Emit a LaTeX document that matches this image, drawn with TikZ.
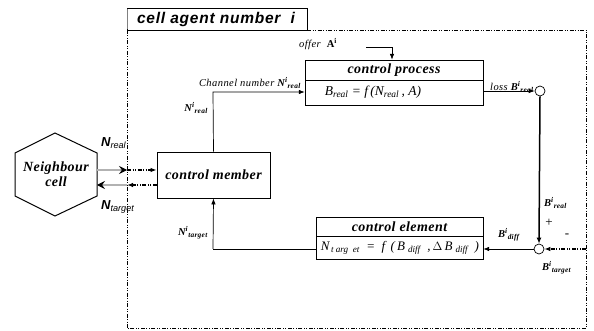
\documentclass[tikz,border=0pt]{standalone}
\usepackage{fontspec}
\setmainfont{Liberation Serif}
\setsansfont{Liberation Sans}
\usetikzlibrary{arrows.meta}
\newcommand{\Sp}[1]{\textsuperscript{#1}}
\newcommand{\Sb}[1]{\textsubscript{#1}}
\tikzset{
  blk/.style={draw, line width=0.8pt, inner sep=0pt},
  lbl/.style={font=\fontsize{10.5}{11}\selectfont\itshape\addfontfeatures{LetterSpace=4}, inner sep=1pt},
  conn/.style={line width=0.7pt, -{Latex[length=6pt,width=4.5pt]}},
  thickconn/.style={line width=1.5pt, -{Latex[length=6pt,width=5pt]}},
  dblconn/.style={draw=black, line width=0.6pt, double=gray!60, double distance=1.4pt, -{Stealth[length=8pt,width=8pt,inset=3pt]}},
  dd/.style={dash pattern=on 4pt off 1.5pt on 1pt off 1.5pt on 1pt off 1.5pt},
  frame/.style={dd, line width=0.9pt},
  sumc/.style={draw, circle, minimum size=10pt, inner sep=0pt, line width=0.7pt, fill=white},
  boxtitle/.style={font=\fontsize{14}{15}\selectfont\bfseries\itshape\addfontfeatures{LetterSpace=3}},
}
\begin{document}
\begin{tikzpicture}[x=1pt,y=-1pt]
\useasboundingbox (0,0) rectangle (594,331);
% title box and frame
\draw[line width=0.8pt] (127,8) rectangle (307,30);
\draw[gray, line width=1.2pt] (127.6,8.6) -- (127.6,29.4);
\node[font=\fontsize{15.5}{17}\selectfont\sffamily\bfseries\itshape\addfontfeatures{LetterSpace=5}] (title) at (216,19) {cell agent number\ \ i};
\draw[frame] (307,30) -- (586,30) -- (586,328) -- (127,328);
\draw[dd, line width=0.6pt] (127,30) -- (127,328);
% control process
\draw[blk] (305,60) rectangle (483,105);
\draw[line width=0.8pt] (305,80) -- (483,80);
\node (cp) at (394,82.5) [minimum width=178pt, minimum height=45pt] {};
\node[boxtitle] (cpt) at (394,70) {control process};
\node[font=\fontsize{13.5}{14}\selectfont\itshape] (cpf) at (373,92.5) {B\Sb{real} = f\,(N\Sb{real}\,, A)};
% control element
\draw[blk] (316,217) rectangle (483,259);
\draw[line width=0.8pt] (316,236) -- (483,236);
\node (ce) at (399.5,238) [minimum width=167pt, minimum height=42pt] {};
\node[boxtitle] (cet) at (399.5,226.5) {control element};
\node[font=\fontsize{13}{14}\selectfont\itshape] (cef) at (400,248) {N\Sb{\,t arg\ \ et}\ \ =\ \ f\, (\,B\Sb{\,\,diff}\ \ ,\,$\Delta$\,B\Sb{\,\,diff}\ \ )};
% control member
\node[blk, minimum width=113pt, minimum height=46pt, boxtitle] (cm) at (213.5,175) {control member};
% neighbour cell
\draw[line width=1pt] (55,133) -- (97,153) -- (97,196) -- (55,216) -- (15,196) -- (15,153) -- cycle;
\node[boxtitle, align=center] (nc) at (56,174.5) {Neighbour\\cell};
% circles
\node[sumc] (c1) at (540,91) {};
\node[sumc] (c2) at (539,249) {};
% coordinates
\coordinate (o1) at (366,47);
\coordinate (o2) at (392,47);
\coordinate (cmtop) at (213,92);
\coordinate (cmbot) at (213,249);
\coordinate (tgt) at (586,249);
\coordinate (b1) at (127,170);
\coordinate (b2) at (127,185);
\coordinate (h1) at (97,170);
\coordinate (h2) at (97,185);
% connectors
\draw[conn] (o1) -- (o2) -- (o2 |- cp.north);
\draw[conn] (cm.north) -- (cmtop) -- (cp.west |- cmtop);
\draw[conn] (cp.east |- c1) -- (c1.west);
\draw[thickconn] (c1.south) -- (c2.north);
\draw[conn, dd, line width=1.1pt] (tgt) -- (c2.east);
\draw[conn] (c2.west) -- (ce.east |- c2);
\draw[line width=0.7pt] (ce.west |- cmbot) -- (cmbot);
\draw[conn] (cmbot) -- (cm.south);
\draw[dblconn] (h1) -- (b1);
\draw[conn, dd, line width=1.2pt] (b1) -- (cm.west |- b1);
\draw[conn, dd, line width=1.2pt] (cm.west |- b2) -- (b2);
\draw[dblconn] (b2) -- (h2);
% labels
\node[lbl, anchor=west] (offer) at (298,44) {offer\ \ \textbf{\upshape A}\Sp{\textbf{\upshape i}}};
\node[lbl, anchor=east] (chn) at (302,83) {Channel number \textbf{N\Sp{i}\Sb{real}}};
\node[lbl, anchor=east] (nreal) at (209,108) {\textbf{N\Sp{i}\Sb{real}}};
\node[lbl, anchor=west] (loss) at (489,87) {loss \textbf{B\Sp{i}\Sb{real}}};
\node[lbl, anchor=west] (breal) at (543,203) {\textbf{B\Sp{i}\Sb{real}}};
\node[font=\fontsize{13}{14}\selectfont, inner sep=0pt] (plus) at (549,223) {+};
\node[font=\fontsize{13}{14}\selectfont, inner sep=0pt] (minus) at (567,236) {-};
\node[lbl, anchor=west] (bdiff) at (497,235) {\textbf{B\Sp{i}\Sb{diff}}};
\node[lbl, anchor=west] (btgt) at (541,268) {\textbf{B\Sp{i}\Sb{target}}};
\node[lbl, anchor=east] (ntgt) at (209,233) {\textbf{N\Sp{i}\Sb{target}}};
\node[font=\fontsize{13}{14}\selectfont\sffamily\bfseries\itshape, anchor=west, inner sep=0pt] (nr) at (101,143) {N\Sb{\normalfont\sffamily\itshape real}};
\node[font=\fontsize{13}{14}\selectfont\sffamily\bfseries\itshape, anchor=west, inner sep=0pt] (nt) at (101,207) {N\Sb{\normalfont\sffamily\itshape target}};
\end{tikzpicture}
\end{document}
